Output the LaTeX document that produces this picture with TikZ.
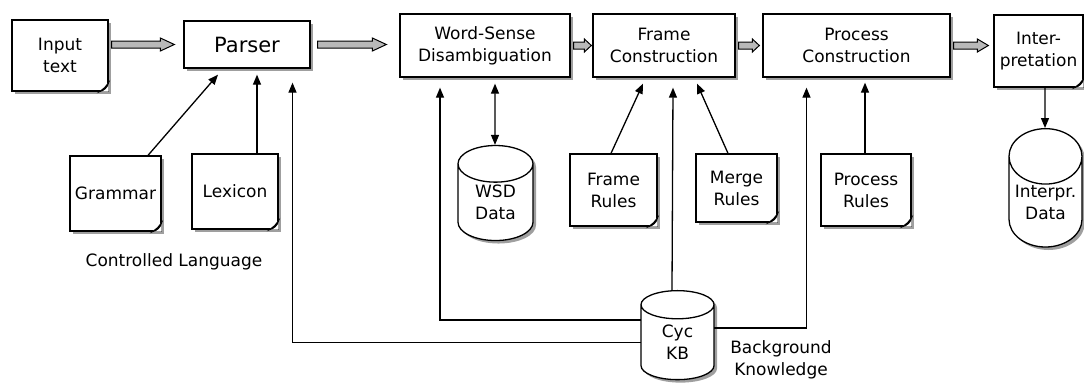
\documentclass[tikz,border=0pt]{standalone}
\usepackage{fontspec}
\setmainfont{DejaVu Sans}
\usetikzlibrary{shapes.geometric,shadows,arrows.meta,calc}
\tikzset{
  base/.style={font=\fontsize{17pt}{22pt}\selectfont, align=center, inner sep=0pt},
  shadowed/.style={drop shadow={shadow xshift=3pt, shadow yshift=-3pt, fill=gray!75, opacity=1}},
  procbox/.style={base, draw, line width=1.3pt, fill=white, shadowed, rectangle},
  docbox/.style={base, draw, line width=1.3pt, fill=white, shadowed, rectangle},
  store/.style={base, draw, line width=1.3pt, fill=white, shadowed, cylinder, shape border rotate=90, aspect=0.9},
  arr/.style={line width=1.3pt, -{Triangle[length=10pt,width=8pt]}},
  darr/.style={line width=1.3pt, {Triangle[length=10pt,width=8pt]}-{Triangle[length=10pt,width=8pt]}},
  fat/.style={draw, line width=1pt, fill=gray!55, line join=miter},
  plain/.style={base}
}
% #1 from, #2 to, #3 node giving y, #4 start gap, #5 end gap, #6 head length
\newcommand\fatarrow[6]{%
  \path[fat] let \p1=(#1.east), \p2=(#2.west), \p3=(#3.center) in
  (\x1+#4,\y3+3.5pt) -- (\x2-#5-#6,\y3+3.5pt) -- (\x2-#5-#6,\y3+6.5pt) -- (\x2-#5,\y3)
  -- (\x2-#5-#6,\y3-6.5pt) -- (\x2-#5-#6,\y3-3.5pt) -- (\x1+#4,\y3-3.5pt) -- cycle;}
\newcommand\curl[1]{%
  \fill[white] ([xshift=-9pt]#1.south east) -- (#1.south east) -- ([yshift=9pt]#1.south east) -- cycle;
  \draw[line width=1pt, fill=gray!45] ([xshift=-9pt]#1.south east) .. controls ([shift={(-5pt,1pt)}]#1.south east) and ([shift={(-1pt,4pt)}]#1.south east) .. ([yshift=9pt]#1.south east)
    -- ([shift={(-4pt,4pt)}]#1.south east) -- cycle;}
\begin{document}
\begin{tikzpicture}[x=1pt,y=-1pt]
\useasboundingbox (0,0) rectangle (1084,388);
% process boxes
\node[procbox, minimum width=126pt, minimum height=47pt, font=\fontsize{21pt}{24pt}\selectfont] (parser) at (247,44.5) {Parser};
\node[procbox, minimum width=170pt, minimum height=63pt] (wsd) at (485,45.5) {Word-Sense\\Disambiguation};
\node[procbox, minimum width=142pt, minimum height=63pt] (frame) at (664,45.5) {Frame\\Construction};
\node[procbox, minimum width=187pt, minimum height=63pt] (proc) at (856.5,45.5) {Process\\Construction};
% documents
\node[docbox, minimum width=96pt, minimum height=71pt] (in) at (60,55.5) {Input\\text};
\node[docbox, minimum width=89pt, minimum height=72pt] (interp) at (1038.5,51) {Inter-\\pretation};
\node[docbox, minimum width=91pt, minimum height=75pt] (grammar) at (115.5,193.5) {Grammar};
\node[docbox, minimum width=86pt, minimum height=75pt] (lexicon) at (235,191.5) {Lexicon};
\node[docbox, minimum width=87pt, minimum height=72pt] (frules) at (613.5,190) {Frame\\Rules};
\node[docbox, minimum width=81pt, minimum height=68pt] (mrules) at (736.5,188) {Merge\\Rules};
\node[docbox, minimum width=90pt, minimum height=72pt] (prules) at (866,190) {Process\\Rules};
\foreach \n in {in,interp,grammar,lexicon,frules,mrules,prules} {\curl{\n}}
% stores
\node[store, minimum width=75pt, minimum height=95pt] (wsddata) at (495.5,202.5) {WSD\\Data};
\node[store, minimum width=73pt, minimum height=96pt] (idata) at (1045.5,202) {Interpr.\\Data};
\node[store, minimum width=73pt, minimum height=89pt] (cyc) at (677.5,342.5) {Cyc\\KB};
% labels
\node[plain] (cl) at (174,262) {Controlled Language};
\node[plain] (bk) at (781,360) {Background\\Knowledge};
% fat arrows
\fatarrow{in}{parser}{parser}{3pt}{9pt}{14pt}
\fatarrow{parser}{wsd}{parser}{7pt}{13pt}{14pt}
\fatarrow{wsd}{frame}{wsd}{3pt}{1pt}{7pt}
\fatarrow{frame}{proc}{frame}{3pt}{3pt}{7pt}
\fatarrow{proc}{interp}{proc}{3pt}{5pt}{11pt}
% thin arrows
\draw[arr] ([xshift=32.5pt]grammar.north) -- ([shift={(-29pt,-6pt)}]parser.south);
\draw[arr] ([xshift=22pt]lexicon.north) -- ([shift={(10pt,-6pt)}]parser.south);
\draw[darr] ([shift={(10pt,-6pt)}]wsd.south) -- ([xshift=-0.5pt]wsddata.north);
\draw[arr] ([xshift=-2.5pt]frules.north) -- ([shift={(-21pt,-6pt)}]frame.south);
\draw[arr] ([xshift=-8.5pt]mrules.north) -- ([shift={(33pt,-6pt)}]frame.south);
\draw[arr] ([xshift=-1pt]prules.north) -- ([shift={(8.5pt,-5pt)}]proc.south);
\draw[arr] ([xshift=6.5pt]interp.south) -- ([xshift=-0.5pt]idata.north);
% from Cyc KB
\draw[arr] ([shift={(-36.5pt,0pt)}]cyc.center) -| ([shift={(45.5pt,-14pt)}]parser.south);
\draw[arr] ([shift={(-36.5pt,22.5pt)}]cyc.center) -| ([shift={(-45pt,-10pt)}]wsd.south);
\draw[arr] ([xshift=-5.5pt]cyc.north) -- ([shift={(9pt,-10pt)}]frame.south);
\draw[arr] ([shift={(36.5pt,14.5pt)}]cyc.center) -| ([shift={(-50pt,-10pt)}]proc.south);
\end{tikzpicture}
\end{document}
